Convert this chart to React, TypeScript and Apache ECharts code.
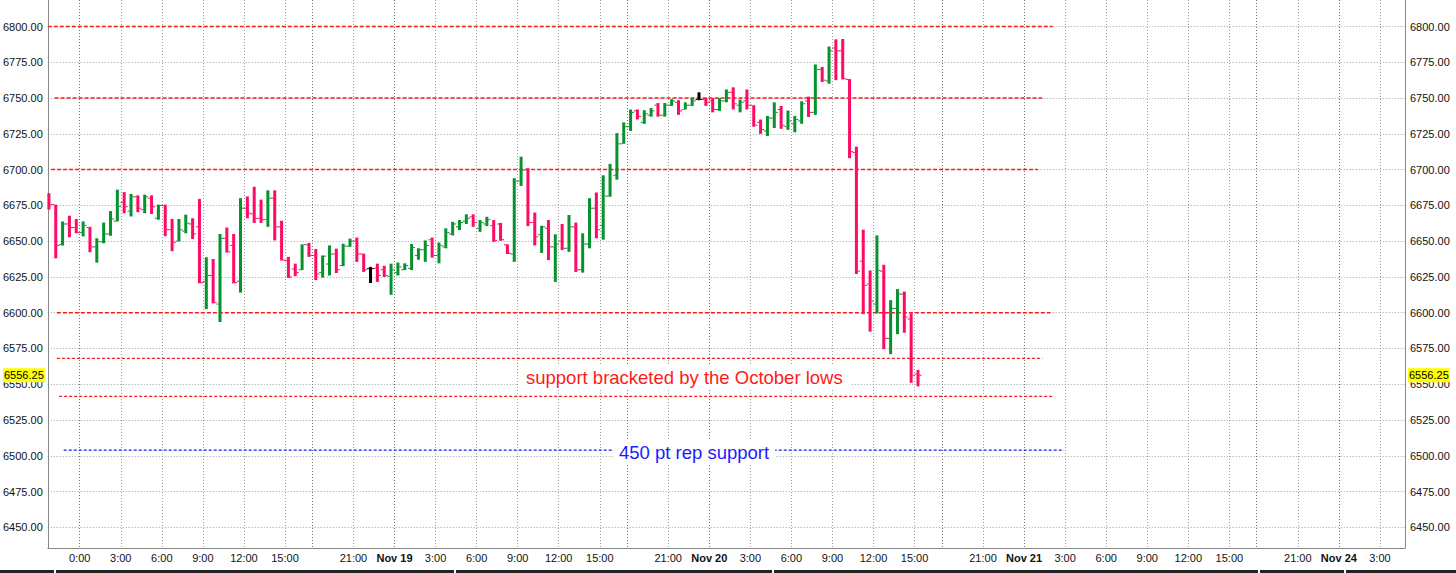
import React, { useEffect, useRef } from "react";
import * as echarts from "echarts";

// ---- OHLC data: 30-minute bars, first bar centred at 21:45 on Nov 17 ----
const firstBarCenter = "17|21:45";
const barOpen = [
  6682, 6675.5, 6647.5, 6662, 6659.5, 6656, 6659.5, 6646, 6649.5, 6655,
  6664, 6677, 6671, 6681, 6672, 6680, 6666, 6675, 6658, 6650,
  6657, 6662, 6660, 6621.75, 6626, 6606, 6652, 6647, 6622, 6673,
  6669, 6666, 6665, 6680, 6660, 6636.5, 6630.5, 6630, 6647.5, 6640,
  6628, 6634, 6641, 6633, 6646.5, 6650, 6641, 6630.75, 6631, 6630,
  6625.5, 6628, 6630, 6631, 6640, 6644, 6651, 6640, 6646, 6655,
  6660, 6664, 6667, 6659, 6662, 6661, 6662, 6647.5, 6641, 6692,
  6700, 6663, 6654.5, 6659, 6646, 6650, 6645, 6660, 6630, 6648,
  6673, 6661, 6681.5, 6696, 6718, 6730, 6741, 6733, 6738, 6745,
  6738, 6745, 6747, 6742, 6745, 6749, 6749, 6748, 6742, 6748,
  6754, 6745, 6748, 6745, 6733, 6727, 6736, 6742, 6730, 6732,
  6734, 6748, 6740, 6770, 6762, 6785, 6783, 6763, 6712, 6636,
  6620, 6606, 6629, 6582, 6603, 6613, 6595.5, 6557,
];
const barHigh = [
  6683.5, 6675.5, 6663.75, 6667.75, 6665.5, 6663.75, 6660, 6652, 6663, 6671,
  6686, 6684.25, 6683, 6682, 6682.5, 6682, 6675.5, 6675.5, 6665.5, 6665.5,
  6668.5, 6666, 6679.5, 6638.75, 6637.5, 6655, 6659.5, 6655, 6680, 6681.25,
  6688, 6679, 6685.5, 6685.5, 6664.25, 6639, 6634.25, 6647.75, 6648.75, 6644.5,
  6640, 6647, 6644.75, 6648.25, 6651.75, 6652.5, 6641.25, 6632, 6634.25, 6632.75,
  6634.25, 6635, 6634.5, 6648, 6645, 6650.5, 6652.5, 6649, 6659, 6663.5,
  6664.75, 6668.75, 6668.75, 6664.75, 6667, 6664.75, 6662.75, 6647.75, 6694, 6709,
  6701, 6670, 6660.75, 6664.75, 6654.75, 6662, 6668.25, 6663, 6655.5, 6680,
  6684, 6696, 6704, 6725.5, 6733, 6742, 6742, 6741.5, 6743, 6746.5,
  6746.5, 6749.25, 6748.5, 6747, 6750, 6754, 6750, 6750, 6750, 6756,
  6757.5, 6749, 6756, 6745, 6735, 6737.5, 6747, 6744.5, 6741.25, 6737.5,
  6747.75, 6751, 6773.5, 6771.75, 6786, 6791, 6791.25, 6763.25, 6716, 6658,
  6629.5, 6654, 6633.5, 6608.75, 6616.5, 6614.75, 6599.5, 6560,
];
const barLow = [
  6672, 6638, 6647, 6652.75, 6655.5, 6653.25, 6642.25, 6635, 6648.5, 6653.75,
  6663.75, 6669.5, 6667.25, 6670.25, 6669.5, 6669, 6665, 6653.5, 6643, 6649.75,
  6655.5, 6651.5, 6620.5, 6602.5, 6606.5, 6593.5, 6642, 6620.5, 6614, 6666,
  6662.75, 6662.75, 6660, 6650.5, 6636.5, 6624.25, 6625.5, 6629.75, 6639, 6622.75,
  6624.5, 6626, 6627.75, 6632.5, 6646, 6635.5, 6628.5, 6620.75, 6621.5, 6625,
  6612.5, 6626, 6629.75, 6629.75, 6637, 6635.5, 6638.5, 6634.5, 6645, 6654,
  6657.75, 6662, 6660, 6656.5, 6660.5, 6649.5, 6650.25, 6641, 6635.5, 6688.5,
  6660.5, 6647, 6641.75, 6636.75, 6621.5, 6643.75, 6642.5, 6628.5, 6628, 6645,
  6652, 6651, 6681, 6693, 6718, 6727, 6735, 6732, 6737, 6737,
  6737, 6744.5, 6738.25, 6742, 6744.5, 6748.5, 6744.5, 6740, 6741, 6747,
  6742, 6740, 6742, 6730, 6725, 6723.5, 6729, 6728.5, 6727.75, 6726,
  6732, 6736.75, 6738.25, 6761.25, 6760, 6762.5, 6763, 6708, 6627, 6599,
  6586.75, 6599.5, 6574.5, 6571, 6585, 6586, 6551, 6548.5,
];
const barClose = [
  6675.5, 6647, 6662, 6659.5, 6656, 6661, 6646, 6649.75, 6655, 6665.5,
  6674.25, 6674, 6681, 6673, 6681, 6674, 6675, 6658, 6649, 6658,
  6662.5, 6655, 6621, 6626, 6607, 6652, 6642.5, 6621, 6673, 6669.5,
  6665.75, 6665, 6680, 6660, 6636.75, 6625, 6628, 6647.5, 6640, 6627,
  6639.5, 6641, 6630, 6646.5, 6650, 6641, 6630, 6630.75, 6626, 6626,
  6630, 6632, 6633, 6645.5, 6644, 6647, 6640, 6647, 6656, 6662,
  6663, 6666, 6663, 6663, 6665, 6650.5, 6651, 6641.5, 6692, 6699.5,
  6663, 6653, 6660, 6646, 6648, 6645, 6660, 6630, 6648, 6673,
  6658, 6681.5, 6700, 6718, 6730, 6740, 6737, 6739, 6741, 6738,
  6745, 6748, 6741, 6745, 6748, 6749, 6747, 6742, 6748, 6754,
  6746, 6747, 6745, 6731, 6728, 6736, 6740, 6731, 6734, 6735,
  6746, 6740, 6770, 6762.5, 6783, 6783, 6763.5, 6712.5, 6629, 6619,
  6608, 6629.5, 6582, 6603, 6613, 6597, 6556, 6556.25,
];

// ---- price axis ----
const yTicks = [6450, 6475, 6500, 6525, 6550, 6575, 6600, 6625, 6650, 6675, 6700, 6725, 6750, 6775, 6800];
const yMin = 6435.55;
const yMax = 6818.52;
const lastPrice = 6556.25;

// ---- drawn levels (price, start time, end time) ----
const redLevels = [6800, 6750, 6700, 6600, 6568, 6541.5];
const redFrom = ["17|21:40", "17|22:10", "17|21:55", "17|22:20", "17|22:20", "17|22:30"];
const redTo = ["21|2:05", "21|1:20", "21|1:00", "21|1:55", "21|1:20", "21|2:10"];
const redWidths = [1.5, 1.5, 1.5, 1.5, 1.2, 1.2];
const blueLevel = 6504;
const blueFrom = "17|22:50";
const blueTo = "21|2:55";

const redNote = "support bracketed by the October lows";
const blueNote = "450 pt rep support";

// ---- time categories: 5-minute steps, skipping the daily 17:00-18:00 halt and the weekend ----
const startDay = 17;
const startMinute = 21 * 60 + 40;
const categoryCount = 1191;

function buildCategories(): string[] {
  const out: string[] = [];
  let day = startDay;
  let m = startMinute;
  while (out.length < categoryCount) {
    out.push(`${day}|${Math.floor(m / 60)}:${String(m % 60).padStart(2, "0")}`);
    m += 5;
    if (m === 17 * 60) {
      if (day === 21) day = 23;
      m = 18 * 60;
    }
    if (m >= 24 * 60) {
      m -= 24 * 60;
      day += 1;
    }
  }
  return out;
}

function parseCat(v: string) {
  const [d, t] = v.split("|");
  const [h, mm] = t.split(":").map(Number);
  return { d: Number(d), h, mm };
}

const FONT = "'Liberation Sans', Arial, sans-serif";
const GREEN = "#07922f";
const PINK = "#ff0a64";
const BLACK = "#000000";

export default function App() {
  const ref = useRef<HTMLDivElement>(null);

  useEffect(() => {
    document.body.style.margin = "0";
    if (!ref.current) return;
    const chart = echarts.init(ref.current, undefined, { renderer: "svg" });
    const categories = buildCategories();
    const firstIdx = categories.indexOf(firstBarCenter);
    const bars = barOpen.map((o, k) => [firstIdx + 6 * k, o, barHigh[k], barLow[k], barClose[k]]);

    const showLabel = (_i: number, v: string) => {
      const { h, mm } = parseCat(v);
      return mm === 0 && h % 3 === 0 && h !== 18;
    };
    const lightGrid = (_i: number, v: string) => {
      const { h, mm } = parseCat(v);
      return mm === 0 && h % 3 === 0 && h !== 0 && h !== 18;
    };
    const darkGrid = (_i: number, v: string) => {
      const { h, mm } = parseCat(v);
      return mm === 0 && (h === 0 || h === 18);
    };

    const priceLabel = {
      show: true,
      formatter: lastPrice.toFixed(2),
      color: "#000",
      backgroundColor: "#ffff00",
      padding: [2, 1, 1, 1],
      fontSize: 11,
      fontFamily: FONT,
      distance: 3,
      opacity: 1,
    };

    const levelSeries: any[] = redLevels.map((p, i) => ({
      type: "line",
      name: "level" + i,
      xAxisIndex: 0,
      yAxisIndex: 0,
      symbol: "none",
      silent: true,
      z: 3,
      lineStyle: { color: "#ff1a1a", width: redWidths[i], type: redWidths[i] > 1.3 ? [4, 2] : [3, 2] },
      data: [[redFrom[i], p], [redTo[i], p]],
    }));
    levelSeries.push({
      type: "line",
      name: "blue",
      xAxisIndex: 0,
      yAxisIndex: 0,
      symbol: "none",
      silent: true,
      z: 3,
      lineStyle: { color: "#1a1aff", width: 1.2, type: [3, 2] },
      data: [[blueFrom, blueLevel], [blueTo, blueLevel]],
      markLine: {
        silent: true,
        symbol: ["none", "none"],
        lineStyle: { color: "rgba(0,0,0,0)", width: 0, type: "solid" },
        data: [
          { yAxis: lastPrice, label: { ...priceLabel, position: "start" } },
          { yAxis: lastPrice, label: { ...priceLabel, position: "end" } },
        ],
      },
    });

    const option: any = {
      animation: false,
      backgroundColor: "#ffffff",
      textStyle: { fontFamily: FONT },
      grid: { left: 46, right: 51, top: 0, bottom: 25, containLabel: false },
      xAxis: [
        {
          type: "category",
          data: categories,
          boundaryGap: false,
          position: "bottom",
          axisLine: { show: true, lineStyle: { color: "#888", width: 1 } },
          axisTick: { show: false },
          axisLabel: {
            interval: showLabel,
            color: "#111",
            fontSize: 11,
            fontFamily: FONT,
            margin: 4,
            formatter: (v: string) => {
              const { d, h } = parseCat(v);
              if (h === 0) return d === 18 ? "0:00" : `{b|Nov ${d}}`;
              return `${h}:00`;
            },
            rich: { b: { fontWeight: "bold", fontSize: 11, color: "#111", fontFamily: FONT } },
          },
          splitLine: { show: true, interval: lightGrid, lineStyle: { color: "#a0a0a0", type: [1, 2], width: 1 } },
        },
        {
          type: "category",
          data: categories,
          boundaryGap: false,
          position: "bottom",
          axisLine: { show: false },
          axisTick: { show: false },
          axisLabel: { show: false },
          splitLine: { show: true, interval: darkGrid, lineStyle: { color: "#707070", type: [1, 2], width: 1 } },
        },
      ],
      yAxis: [
        {
          type: "value",
          position: "left",
          min: yMin,
          max: yMax,
          axisLine: { show: true, lineStyle: { color: "#888" } },
          axisTick: { show: false, customValues: yTicks },
          axisLabel: {
            customValues: yTicks,
            formatter: (v: number) => v.toFixed(2),
            color: "#111",
            fontSize: 11,
            fontFamily: FONT,
            margin: 5,
          },
          splitLine: { show: true, lineStyle: { color: "#a0a0a0", type: [1, 2], width: 1 } },
        },
        {
          type: "value",
          position: "right",
          min: yMin,
          max: yMax,
          axisLine: { show: true, lineStyle: { color: "#888" } },
          axisTick: { show: false, customValues: yTicks },
          axisLabel: {
            customValues: yTicks,
            formatter: (v: number) => v.toFixed(2),
            color: "#111",
            fontSize: 11,
            fontFamily: FONT,
            margin: 5,
          },
          splitLine: { show: false },
        },
      ],
      series: [
        ...levelSeries,
        {
          type: "custom",
          name: "ohlc",
          xAxisIndex: 0,
          yAxisIndex: 0,
          clip: true,
          z: 5,
          encode: { x: 0, y: [1, 2, 3, 4] },
          data: bars,
          renderItem: (_params: any, api: any) => {
            const i = api.value(0);
            const o = api.value(1);
            const h = api.value(2);
            const l = api.value(3);
            const c = api.value(4);
            const ph = api.coord([i, h]);
            const pl = api.coord([i, l]);
            const po = api.coord([i, o]);
            const pc = api.coord([i, c]);
            const color = c > o ? GREEN : c < o ? PINK : BLACK;
            const x = ph[0];
            return {
              type: "group",
              children: [
                {
                  type: "rect",
                  shape: { x: x - 1.5, y: ph[1], width: 3, height: Math.max(1, pl[1] - ph[1]) },
                  style: { fill: color },
                },
                {
                  type: "line",
                  shape: { x1: x - 3.5, y1: po[1], x2: x - 1.5, y2: po[1] },
                  style: { stroke: color, lineWidth: 1 },
                },
                {
                  type: "line",
                  shape: { x1: x + 1.5, y1: pc[1], x2: x + 3.5, y2: pc[1] },
                  style: { stroke: color, lineWidth: 1 },
                },
              ],
            };
          },
        },
      ],
      graphic: [
        {
          type: "text",
          z: 100,
          left: 684 - 166,
          top: 378 - 13,
          style: {
            text: redNote,
            fill: "#ff1a1a",
            font: `18.5px ${FONT}`,
            backgroundColor: "#ffffff",
            padding: [3, 8, 3, 8],
          },
        },
        {
          type: "text",
          z: 100,
          left: 694 - 81,
          top: 453 - 13,
          style: {
            text: blueNote,
            fill: "#1a1aff",
            font: `18.5px ${FONT}`,
            backgroundColor: "#ffffff",
            padding: [3, 6, 3, 6],
          },
        },
        { type: "rect", z: 100, shape: { x: 0, y: 570, width: 54, height: 3 }, style: { fill: "#222" } },
        { type: "rect", z: 100, shape: { x: 56, y: 570, width: 398, height: 3 }, style: { fill: "#222" } },
        { type: "rect", z: 100, shape: { x: 456, y: 570, width: 316, height: 3 }, style: { fill: "#222" } },
        { type: "rect", z: 100, shape: { x: 774, y: 570, width: 484, height: 3 }, style: { fill: "#222" } },
        { type: "rect", z: 100, shape: { x: 1260, y: 570, width: 84, height: 3 }, style: { fill: "#222" } },
        { type: "rect", z: 100, shape: { x: 1346, y: 570, width: 110, height: 3 }, style: { fill: "#222" } },
      ],
    };

    chart.setOption(option);
    return () => chart.dispose();
  }, []);

  return <div ref={ref} style={{ width: 1456, height: 573 }} />;
}
